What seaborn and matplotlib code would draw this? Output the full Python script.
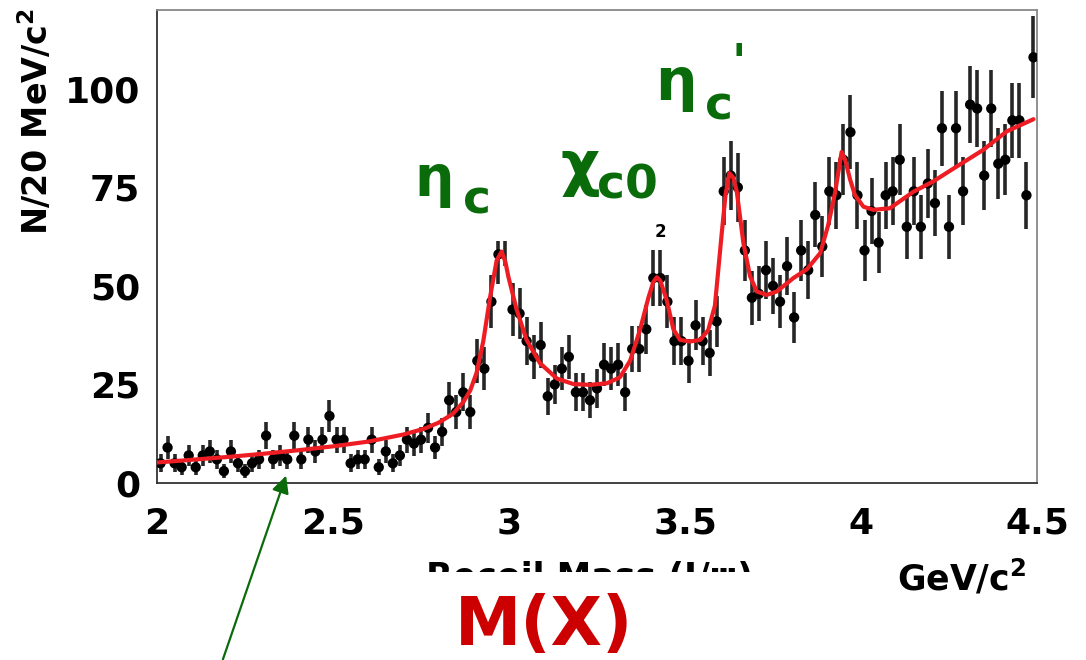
import numpy as np
import pandas as pd
import matplotlib
matplotlib.use("Agg")
import matplotlib.pyplot as plt
import seaborn as sns
from matplotlib.patches import Rectangle, FancyArrowPatch
from matplotlib.ticker import MultipleLocator

# Recoil-mass histogram: 20 MeV/c^2 bins from 2.0 to 4.5 GeV/c^2
bin_lo = 2.0
bin_width = 0.02
counts = [
    5, 9, 5, 4, 7, 4, 7, 8, 6, 3,
    8, 5, 3, 5, 6, 12, 6, 7, 6, 12,
    6, 11, 8, 11, 17, 11, 11, 5, 6, 6,
    11, 4, 8, 5, 7, 11, 10, 11, 14, 9,
    13, 21, 18, 23, 18, 31, 29, 46, 58, 63,
    44, 43, 36, 32, 35, 22, 25, 29, 32, 23,
    23, 21, 24, 30, 29, 30, 23, 34, 34, 39,
    52, 52, 46, 36, 36, 31, 40, 36, 33, 41,
    74, 78, 75, 59, 47, 48, 54, 50, 46, 55,
    42, 59, 54, 68, 60, 74, 73, 82, 89, 73,
    59, 69, 61, 73, 74, 82, 65, 74, 65, 76,
    71, 90, 65, 90, 74, 96, 95, 78, 95, 81,
    82, 92, 92, 73, 108,
]

# Fitted curve (peaks + smooth background), sampled along the mass axis
fit_mass = [
    2.00, 2.10, 2.20, 2.30, 2.40, 2.50, 2.60, 2.70, 2.76, 2.80,
    2.84, 2.87, 2.89, 2.908, 2.927, 2.946, 2.965, 2.979, 2.99, 2.998,
    3.022, 3.050, 3.088, 3.136, 3.183, 3.23, 3.278, 3.315, 3.344, 3.372,
    3.396, 3.41, 3.42, 3.43, 3.448, 3.467, 3.486, 3.514, 3.543, 3.566,
    3.585, 3.604, 3.615, 3.626, 3.637, 3.647, 3.666, 3.685, 3.704, 3.732,
    3.761, 3.808, 3.846, 3.884, 3.907, 3.926, 3.945, 3.955, 3.969, 3.983,
    4.007, 4.035, 4.082, 4.149, 4.205, 4.272, 4.347, 4.414, 4.49,
]
fit_value = [
    5.2, 5.9, 6.6, 7.4, 8.3, 9.3, 10.5, 12.3, 13.8, 15.3,
    17.5, 20.5, 23.5, 28.0, 36.0, 47.0, 56.5, 58.7, 56.0, 52.4,
    43.9, 36.3, 30.4, 26.5, 25.1, 24.9, 25.3, 26.8, 31.0, 38.8,
    47.0, 51.0, 52.2, 51.3, 46.4, 39.0, 36.3, 35.9, 36.3, 38.8,
    45.0, 63.0, 73.0, 78.6, 77.5, 74.0, 60.8, 52.4, 48.6, 47.7,
    48.6, 52.0, 54.2, 58.3, 65.5, 73.5, 84.0, 82.0, 77.0, 73.0,
    70.1, 69.3, 69.7, 73.9, 76.5, 80.3, 84.5, 89.2, 92.3,
]

x_ticks = [2.0, 2.5, 3.0, 3.5, 4.0, 4.5]
x_tick_labels = ["2", "2.5", "3", "3.5", "4", "4.5"]
y_ticks = [0, 25, 50, 75, 100]
y_tick_labels = ["0", "25", "50", "75", "100"]

W, H = 1086, 660


def fx(px):
    return px / W


def fy(py):
    return 1 - py / H


sns.set_style("white")
plt.rcParams["font.family"] = ["DejaVu Sans"]
plt.rcParams["text.color"] = "black"
plt.rcParams["xtick.color"] = "black"
plt.rcParams["ytick.color"] = "black"
plt.rcParams["mathtext.fontset"] = "dejavusans"

centers = bin_lo + bin_width * (np.arange(len(counts)) + 0.5)
hist = pd.DataFrame({"mass": centers, "events": counts})
hist["err"] = np.sqrt(hist["events"])
fit = pd.DataFrame({"mass": fit_mass, "value": fit_value})

fig = plt.figure(figsize=(W / 100, H / 100), dpi=100)
ax = fig.add_axes([fx(157), fy(483), (1037 - 157) / W, (483 - 10) / H])

ax.errorbar(hist["mass"], hist["events"], yerr=hist["err"], fmt="none",
            ecolor="#262626", elinewidth=2.6, capsize=0, zorder=2)
sns.scatterplot(data=hist, x="mass", y="events", ax=ax, color="black",
                s=55, edgecolor="none", zorder=3, legend=False)
sns.lineplot(data=fit, x="mass", y="value", ax=ax, color="#ee1d23",
             lw=3.0, sort=False, zorder=4, legend=False)

# blank panel over the upper left part of the frame
ax.add_patch(Rectangle((2.004, 61.3), 1.536, 57.8, facecolor="white",
                       edgecolor="none", zorder=5))

ax.set_xlim(2.0, 4.5)
ax.set_ylim(0, 120)
ax.set_xlabel("")
ax.set_ylabel("")
ax.set_xticks(x_ticks, x_tick_labels, fontsize=26, fontweight="bold")
ax.set_yticks(y_ticks, y_tick_labels, fontsize=26, fontweight="bold")
ax.xaxis.set_minor_locator(MultipleLocator(0.1))
ax.yaxis.set_minor_locator(MultipleLocator(5))
ax.tick_params(which="major", direction="in", length=13, width=1.0,
               color="#555555", labelcolor="black", top=False, right=False)
ax.tick_params(axis="x", which="major", pad=17)
ax.tick_params(axis="y", which="major", pad=12)
ax.tick_params(which="minor", direction="in", length=5, width=1.0,
               color="#555555", top=False, right=False)
for name, sp in ax.spines.items():
    sp.set_visible(True)
    sp.set_linewidth(1.3)
    sp.set_color("#333333" if name in ("left", "bottom") else "#888888")

# axis titles
fig.text(fx(36), fy(8), r"N/20 MeV/c$^{\mathbf{2}}$", rotation=90,
         ha="center", va="top", fontsize=24, fontweight="bold")
fig.text(fx(897), fy(591), r"GeV/c$^{\mathbf{2}}$", ha="left",
         va="baseline", fontsize=25, fontweight="bold")
fig.text(fx(426), fy(588), "Recoil Mass (J/ψ)", ha="left", va="baseline",
         fontsize=25, fontweight="bold", zorder=1)
fig.add_artist(Rectangle((fx(400), fy(700)), fx(400), (700 - 572) / H,
                         transform=fig.transFigure, facecolor="white",
                         edgecolor="none", zorder=2))
fig.text(fx(655), fy(237), "2", ha="left", va="baseline", fontsize=12,
         fontweight="bold")

# resonance labels
green = "#0a6b0a"
fig.text(fx(414), fy(196), "η", color=green, fontsize=40, fontweight="bold",
         zorder=6)
fig.text(fx(463), fy(214), "c", color=green, fontsize=34, fontweight="bold",
         zorder=6)
fig.text(fx(560), fy(184), "χ", color=green, fontsize=44, fontweight="bold",
         zorder=6)
fig.text(fx(597), fy(198), "c0", color=green, fontsize=34, fontweight="bold",
         zorder=6)
fig.text(fx(655), fy(100), "η", color=green, fontsize=42, fontweight="bold",
         zorder=6)
fig.text(fx(705), fy(120), "c", color=green, fontsize=34, fontweight="bold",
         zorder=6)
fig.text(fx(731), fy(77), "'", color=green, fontsize=34, fontweight="bold",
         zorder=6)

fig.text(fx(455), fy(645), "M(X)", color="#cc0000", fontsize=48,
         fontweight="bold", zorder=6)

fig.add_artist(FancyArrowPatch((fx(222), fy(662)), (fx(287), fy(473)),
                               transform=fig.transFigure, arrowstyle="-|>",
                               mutation_scale=26, color="#0b6b0b", lw=1.6,
                               zorder=7))

fig.savefig("out.png", dpi=100)
